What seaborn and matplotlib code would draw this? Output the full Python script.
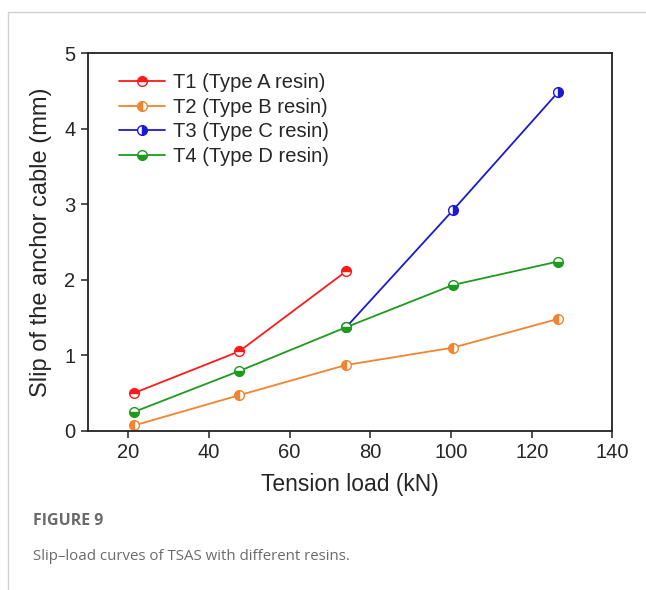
import numpy as np
import pandas as pd
import seaborn as sns
import matplotlib.pyplot as plt
from matplotlib.lines import Line2D

# data
load_t1 = [21.5, 47.5, 74.0]
slip_t1 = [0.50, 1.05, 2.11]
load_t2 = [21.5, 47.5, 74.0, 100.5, 126.5]
slip_t2 = [0.07, 0.47, 0.87, 1.10, 1.48]
load_t3 = [74.0, 100.5, 126.5]
slip_t3 = [1.37, 2.92, 4.48]
load_t4 = [21.5, 47.5, 74.0, 100.5, 126.5]
slip_t4 = [0.25, 0.79, 1.37, 1.93, 2.24]

names = ['T1 (Type A resin)', 'T2 (Type B resin)', 'T3 (Type C resin)', 'T4 (Type D resin)']
colors = ['#ff1a1a', '#f28330', '#1a1ad2', '#1e9a1e']
fills = ['top', 'left', 'right', 'bottom']
loads = [load_t1, load_t2, load_t3, load_t4]
slips = [slip_t1, slip_t2, slip_t3, slip_t4]

sns.set_style('ticks')
plt.rcParams['font.family'] = ['Liberation Sans', 'DejaVu Sans']

fig = plt.figure(figsize=(6.46, 5.9), dpi=100)
ax = fig.add_axes([0.136, 0.27, 0.812, 0.64])

for name, c, fs, x, y in zip(names, colors, fills, loads, slips):
    df = pd.DataFrame({'load': x, 'slip': y})
    sns.lineplot(data=df, x='load', y='slip', ax=ax, color=c, lw=1.3,
                 marker='o', markersize=7, fillstyle=fs,
                 markerfacecolor=c, markerfacecoloralt='white',
                 markeredgecolor=c, markeredgewidth=1.0, label=name)

ax.set_xlim(10, 140)
ax.set_ylim(0, 5)
ax.set_xticks([20, 40, 60, 80, 100, 120, 140])
ax.set_yticks([0, 1, 2, 3, 4, 5])
ax.tick_params(labelsize=14.5, direction='out', length=5, width=1.1, color='#222222', pad=4)
for s in ax.spines.values():
    s.set_linewidth(1.3)
    s.set_color('#222222')
ax.set_xlabel('Tension load (kN)', fontsize=16.5, labelpad=8)
ax.set_ylabel('Slip of the anchor cable (mm)', fontsize=17, labelpad=9)

h, l = ax.get_legend_handles_labels()
ax.legend(h, l, loc='upper left', frameon=False, fontsize=14.5, handlelength=2.3,
          handletextpad=0.4, labelspacing=0.28, bbox_to_anchor=(0.025, 0.995))

# figure card frame and caption
fig.add_artist(Line2D([8/646, 1], [1 - 12/590, 1 - 12/590], color='#d0d0d0', lw=1))
fig.add_artist(Line2D([8/646, 8/646], [1 - 12/590, 0], color='#d0d0d0', lw=1))
fig.text(33/646, 1 - 521/590, 'FIGURE 9', fontsize=11.5, color='#6b6b6b',
         weight='bold', va='center', family=['Open Sans', 'DejaVu Sans'])
fig.text(33/646, 1 - 557/590, 'Slip\u2013load curves of TSAS with different resins.',
         fontsize=10.8, color='#6b6b6b', va='center', family=['Open Sans', 'DejaVu Sans'])

fig.savefig('out.png', dpi=100)
